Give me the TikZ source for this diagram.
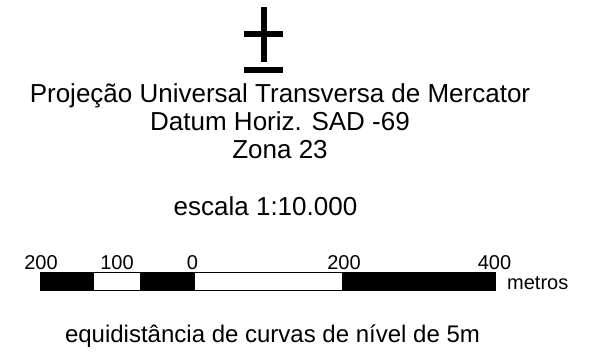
\documentclass[tikz,border=0pt]{standalone}
\usepackage{fontspec}
\setmainfont{Liberation Sans}
\begin{document}
\begin{tikzpicture}[x=1pt,y=-1pt,
  txt/.style={inner sep=0pt,anchor=base},
  big/.style={txt,font=\fontsize{26}{28}\selectfont},
  mid/.style={txt,font=\fontsize{24}{26}\selectfont},
  small/.style={txt,font=\fontsize{20}{22}\selectfont},
  blk/.style={fill=black,draw=black,line width=0.8pt},
  wht/.style={fill=white,draw=black,line width=0.8pt}]
\useasboundingbox (0,0) rectangle (605,361);
% north / plus-minus symbol
\fill (260.7,7) rectangle (267.3,62);
\fill (244,30.7) rectangle (283.3,37.3);
\fill (244,66.7) rectangle (283.3,73.3);
% texts
\node[big] (proj) at (280,102) {Projeção Universal Transversa de Mercator};
\node[big] (datum) at (280,130) {Datum Horiz. SAD -69};
\node[big] (zona) at (280,158) {Zona 23};
\node[big] (esc) at (265.5,215) {escala 1:10.000};
% scale bar
\draw[blk] (40,272.5) rectangle (93,290);
\draw[wht] (93,272.5) rectangle (140.5,290);
\draw[blk] (140.5,272.5) rectangle (194,290);
\draw[wht] (194,272.5) rectangle (342.5,290);
\draw[blk] (342.5,272.5) rectangle (495,290);
\node[small] (l200a) at (41,269) {200};
\node[small] (l100) at (117,269) {100};
\node[small] (l0) at (192.5,269) {0};
\node[small] (l200b) at (344,269) {200};
\node[small] (l400) at (494.5,269) {400};
\node[small,anchor=base west] (metros) at (507,289) {metros};
\node[mid] (equi) at (272.5,342) {equidistância de curvas de nível de 5m};
\end{tikzpicture}
\end{document}
